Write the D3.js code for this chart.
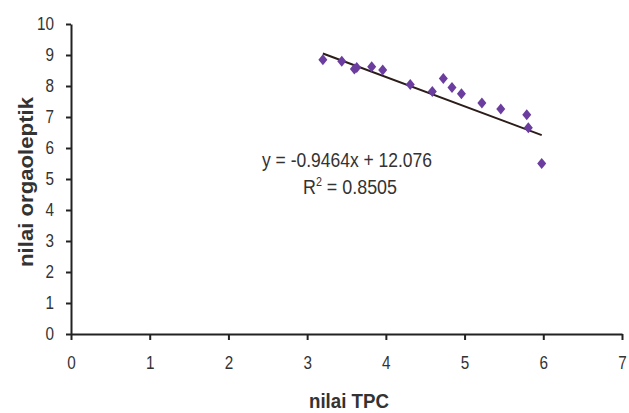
<!DOCTYPE html>
<html lang="en">
<head>
    <meta charset="UTF-8">
    <title>nilai TPC vs nilai orgaoleptik</title>
    <style>
        body { margin: 0; background: #fff; }
        svg { width: 629px; height: 413px; display: block; }
        .axis text {
            font-family: "Liberation Sans", Arial, sans-serif;
            font-size: 18px;
            fill: #333;
        }
        .axis path, .axis line {
            fill: none;
            stroke: #222;
            stroke-width: 2px;
        }
        .title {
            font-family: "Liberation Sans", Arial, sans-serif;
            font-weight: bold;
            font-size: 21px;
            fill: #333;
        }
        .eq {
            font-family: "Liberation Sans", Arial, sans-serif;
            font-size: 20px;
            fill: #333;
        }
    </style>
    <script src="https://d3js.org/d3.v7.min.js"></script>
</head>
<body>
    <div id="graph"></div>
    <script>
        // data
        const tpc = [3.20, 3.44, 3.60, 3.63, 3.82, 3.96, 4.31, 4.59, 4.73, 4.84, 4.96, 5.22, 5.46, 5.79, 5.81, 5.98];
        const orga = [8.85, 8.80, 8.55, 8.60, 8.62, 8.52, 8.05, 7.82, 8.24, 7.95, 7.75, 7.45, 7.26, 7.07, 6.65, 5.50];
        const slope = -0.9464;
        const intercept = 12.076;
        const xTicks = [0, 1, 2, 3, 4, 5, 6, 7];
        const yTicks = [0, 1, 2, 3, 4, 5, 6, 7, 8, 9, 10];

        const width = 629, height = 413;
        const margins = { top: 24, bottom: 79, left: 71, right: 7 };

        const svg = d3.select("#graph").append("svg")
            .attr("viewBox", `0 0 ${width} ${height}`);

        const xScale = d3.scaleLinear().domain([0, 7]).range([margins.left, width - margins.right]);
        const yScale = d3.scaleLinear().domain([0, 10]).range([height - margins.bottom, margins.top]);

        const xAxis = d3.axisBottom(xScale).tickValues(xTicks).tickFormat(d3.format("d"))
            .tickSize(6).tickSizeOuter(0).tickPadding(16);
        const yAxis = d3.axisLeft(yScale).tickValues(yTicks).tickFormat(d3.format("d"))
            .tickSize(5).tickSizeOuter(0).tickPadding(12);

        // narrow digits, like the scanned font
        const narrow = sel => sel.selectAll("text")
            .attr("textLength", d => String(d).length * 8.5)
            .attr("lengthAdjust", "spacingAndGlyphs");

        svg.append("g")
            .attr("class", "axis")
            .attr("transform", `translate(0, ${yScale(0)})`)
            .call(xAxis)
            .call(narrow);

        svg.append("g")
            .attr("class", "axis")
            .attr("transform", `translate(${xScale(0)}, 0)`)
            .call(yAxis)
            .call(narrow);

        // trend line
        const x0 = d3.min(tpc), x1 = d3.max(tpc);
        svg.append("line")
            .attr("x1", xScale(x0)).attr("y1", yScale(slope * x0 + intercept))
            .attr("x2", xScale(x1)).attr("y2", yScale(slope * x1 + intercept))
            .attr("stroke", "#2b1d1a")
            .attr("stroke-width", 2);

        // points
        const data = tpc.map((d, i) => ({ x: d, y: orga[i] }));
        svg.selectAll(".pt")
            .data(data)
            .enter().append("path")
            .attr("class", "pt")
            .attr("d", "M0,-5.5L4.5,0L0,5.5L-4.5,0Z")
            .attr("transform", d => `translate(${xScale(d.x)},${yScale(d.y)})`)
            .attr("fill", "#6a3d9f");

        // equation
        svg.append("text")
            .attr("class", "eq")
            .attr("x", 347).attr("y", 167)
            .attr("text-anchor", "middle")
            .attr("textLength", 170)
            .attr("lengthAdjust", "spacingAndGlyphs")
            .text(`y = ${slope}x + ${intercept.toFixed(3)}`);

        const r2 = svg.append("text")
            .attr("class", "eq")
            .attr("x", 350).attr("y", 194)
            .attr("text-anchor", "middle")
            .attr("textLength", 94)
            .attr("lengthAdjust", "spacingAndGlyphs");
        r2.append("tspan").text("R");
        r2.append("tspan").attr("dy", -8).attr("font-size", 12).text("2");
        r2.append("tspan").attr("dy", 8).text(" = 0.8505");

        // axis titles
        svg.append("text")
            .attr("class", "title")
            .attr("transform", `translate(33, ${(yScale(0) + yScale(10)) / 2 + 3}) rotate(-90)`)
            .attr("text-anchor", "middle")
            .attr("textLength", 170)
            .attr("lengthAdjust", "spacingAndGlyphs")
            .text("nilai orgaoleptik");

        svg.append("text")
            .attr("class", "title")
            .attr("x", 349).attr("y", 408)
            .attr("text-anchor", "middle")
            .attr("textLength", 80)
            .attr("lengthAdjust", "spacingAndGlyphs")
            .text("nilai TPC");
    </script>
</body>
</html>
